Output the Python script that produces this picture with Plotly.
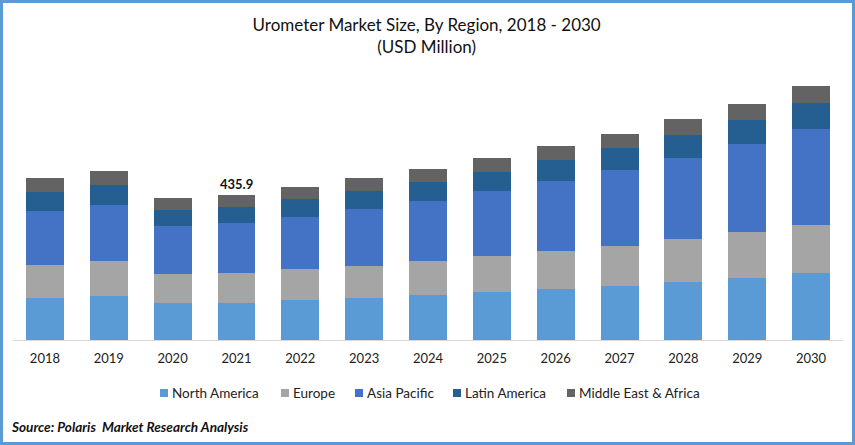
import plotly.graph_objects as go

years = ["2018", "2019", "2020", "2021", "2022", "2023", "2024", "2025", "2026", "2027", "2028", "2029", "2030"]

north_america = [126.3, 132.3, 111.2, 111.2, 120.2, 126.3, 135.3, 144.3, 153.3, 162.3, 174.3, 186.4, 201.4]
europe = [99.2, 105.2, 87.2, 90.2, 93.2, 96.2, 102.2, 108.2, 114.2, 120.2, 129.3, 138.3, 144.3]
asia_pacific = [162.3, 168.3, 144.3, 150.3, 156.3, 171.3, 180.4, 195.4, 210.4, 228.5, 243.5, 264.5, 288.6]
latin_america = [57.1, 60.1, 48.1, 48.1, 54.1, 54.1, 57.1, 57.1, 63.1, 66.1, 69.1, 72.1, 78.2]
middle_east = [42.1, 42.1, 36.1, 36.1, 36.1, 39.1, 39.1, 42.1, 42.1, 42.1, 48.1, 48.1, 51.1]

series = [
    ("North America", north_america, "#5b9bd5"),
    ("Europe", europe, "#a5a5a5"),
    ("Asia Pacific", asia_pacific, "#4472c4"),
    ("Latin America", latin_america, "#255e91"),
    ("Middle East & Africa", middle_east, "#636363"),
]

W, H = 855, 445
ML, MR, MT, MB = 13, 12, 60, 105
plot_w = W - ML - MR
plot_h = H - MT - MB

# legend swatch left edges, picture pixels
legend_px = [160, 281, 355, 453, 567]
legend_y_px = 393


def px_x(x):
    return (x - ML) / plot_w


def px_y(y):
    return (H - MB - y) / plot_h


fig = go.Figure()
for name, values, color in series:
    fig.add_bar(x=years, y=values, name=name, marker_color=color, marker_line_width=0, showlegend=False)

i_2021 = years.index("2021")
total_2021 = sum(s[1][i_2021] for s in series)
fig.add_annotation(x=i_2021, y=total_2021, text=f"<b>{total_2021:.1f}</b>", showarrow=False,
                   yanchor="bottom", yshift=1, font=dict(size=13, color="#111111"))

# legend drawn by hand, plotly's own swatch gap is too wide here
for (name, values, color), x in zip(series, legend_px):
    fig.add_shape(type="rect", xref="paper", yref="paper",
                  x0=px_x(x), x1=px_x(x + 8), y0=px_y(legend_y_px + 4), y1=px_y(legend_y_px - 4),
                  fillcolor=color, line_width=0)
    fig.add_annotation(xref="paper", yref="paper", x=px_x(x + 10), y=px_y(legend_y_px),
                       text=name, showarrow=False, xanchor="left", yanchor="middle",
                       font=dict(size=13.5, color="#222222"))

# source line, below the legend
fig.add_annotation(xref="paper", yref="paper", x=px_x(9), y=px_y(427),
                   text="<b><i>Source: Polaris  Market Research Analysis</i></b>", showarrow=False,
                   xanchor="left", yanchor="middle", font=dict(size=13.6, color="#111111"))

# blue frame around the whole picture
fig.add_shape(type="rect", xref="paper", yref="paper",
              x0=px_x(1.5), x1=px_x(W - 1.5), y0=px_y(H - 1.5), y1=px_y(1.5),
              line=dict(color="#5b9bd5", width=3))

fig.update_layout(
    width=W, height=H,
    margin=dict(l=ML, r=MR, t=MT, b=MB, autoexpand=False),
    barmode="stack", bargap=0.406,
    paper_bgcolor="white", plot_bgcolor="white",
    font=dict(family="Lato, Carlito, sans-serif", color="#222222", size=13),
    title=dict(text="Urometer Market Size, By Region, 2018 - 2030<br>(USD Million)",
               x=0.499, xanchor="center", y=0.93, yanchor="top",
               font=dict(size=17, color="#111111")),
    xaxis=dict(type="category", range=[-0.5, 12.5], showgrid=False, showline=True,
               linecolor="#d9d9d9", linewidth=1,
               ticks="outside", ticklen=6, tickcolor="rgba(0,0,0,0)", tickfont=dict(size=13, color="#222222")),
    yaxis=dict(range=[0, plot_h * 3.006], visible=False),
)

fig.write_html("out.html", config=dict(displayModeBar=False), post_script="document.body.style.margin='0';")
